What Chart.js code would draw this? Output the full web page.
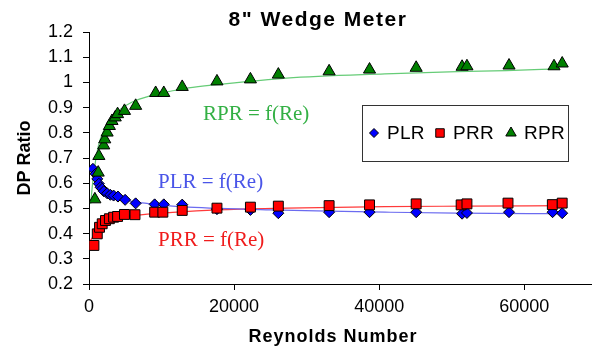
<!DOCTYPE html>
<html>
<head>
<meta charset="utf-8">
<title>8" Wedge Meter</title>
<script src="https://cdn.jsdelivr.net/npm/chart.js@4.4.1/dist/chart.umd.min.js"></script>
<style>
  html, body { margin: 0; padding: 0; background: #fff; }
  #wrap { width: 599px; height: 352px; position: relative; }
</style>
</head>
<body>
<div id="wrap"><canvas id="wedgeChart"></canvas></div>
<script>
// measured pressure ratios vs Reynolds number
const plrRe = [540, 910, 1140, 1360, 1590, 1820, 2040, 2500, 2940, 3390, 3990, 4980, 6430, 9050, 10310, 12850, 17640, 22250, 26100, 33100, 38670, 45100, 51430, 52100, 57900, 63900, 65230];
const plrRatio = [0.657, 0.637, 0.617, 0.598, 0.584, 0.578, 0.568, 0.560, 0.554, 0.551, 0.547, 0.534, 0.520, 0.516, 0.516, 0.515, 0.497, 0.494, 0.481, 0.485, 0.485, 0.485, 0.479, 0.482, 0.485, 0.485, 0.481];

const prrRe = [680, 1140, 1450, 1820, 2270, 2810, 3390, 3940, 4890, 6340, 9050, 10180, 12850, 17640, 22250, 26100, 33100, 38670, 45100, 51300, 52100, 57760, 63870, 65230];
const prrRatio = [0.353, 0.399, 0.425, 0.439, 0.452, 0.459, 0.465, 0.468, 0.476, 0.475, 0.485, 0.485, 0.492, 0.501, 0.505, 0.509, 0.511, 0.514, 0.518, 0.514, 0.518, 0.521, 0.515, 0.521];

const rprRe = [810, 1270, 1360, 2030, 2170, 2500, 2810, 3170, 3620, 3940, 4890, 6430, 9190, 10310, 12850, 17640, 22250, 26100, 33100, 38670, 45100, 51430, 52100, 57900, 64100, 65230];
const rprRatio = [0.536, 0.642, 0.708, 0.750, 0.774, 0.801, 0.827, 0.847, 0.861, 0.874, 0.887, 0.907, 0.958, 0.958, 0.982, 1.004, 1.012, 1.031, 1.044, 1.051, 1.058, 1.062, 1.064, 1.067, 1.064, 1.075];

// fitted curves f(Re)
const plrFitRe = [230, 1360, 3175, 5430, 8600, 11530, 13660, 24970, 33100, 40800, 50750, 65680];
const plrFitRatio = [0.663, 0.598, 0.558, 0.531, 0.518, 0.509, 0.505, 0.494, 0.489, 0.485, 0.481, 0.479];

const prrFitRe = [230, 1360, 3175, 6340, 11530, 17640, 27230, 40800, 52000, 65680];
const prrFitRatio = [0.373, 0.425, 0.457, 0.472, 0.484, 0.494, 0.501, 0.507, 0.509, 0.511];

const rprFitRe = [230, 540, 910, 1360, 2040, 2940, 4070, 5890, 8600, 11760, 13700, 17640, 27230, 40800, 50750, 57530, 64780];
const rprFitRatio = [0.518, 0.611, 0.690, 0.756, 0.809, 0.856, 0.888, 0.921, 0.948, 0.968, 0.978, 0.991, 1.017, 1.034, 1.043, 1.047, 1.054];

const xTicks = [0, 20000, 40000, 60000];

const toPoints = (xs, ys) => xs.map((x, i) => ({ x: x, y: ys[i] }));

const sans = 'Arial, "Liberation Sans", sans-serif';
const serif = '"Times New Roman", "Liberation Serif", serif';

function markerSet(label, re, ratio, color, style, radius, order) {
    return {
        label: label,
        data: toPoints(re, ratio),
        showLine: false,
        pointStyle: style,
        pointRadius: radius,
        pointBackgroundColor: color,
        pointBorderColor: '#000',
        pointBorderWidth: 1,
        order: order
    };
}

function fitSet(re, ratio, color) {
    return {
        data: toPoints(re, ratio),
        showLine: true,
        borderColor: color,
        borderWidth: 1.2,
        pointRadius: 0,
        cubicInterpolationMode: 'monotone',
        fill: false,
        order: 10
    };
}

// title, axis caption, curve labels and the boxed legend
const chartText = {
    id: 'chartText',
    afterDraw(chart) {
        const ctx = chart.ctx;
        ctx.save();
        ctx.textBaseline = 'middle';
        ctx.textAlign = 'center';
        ctx.fillStyle = '#000';
        ctx.font = 'bold 21px ' + sans;
        ctx.letterSpacing = '1.5px';
        ctx.fillText('8" Wedge Meter', 318, 20);
        ctx.font = 'bold 18px ' + sans;
        ctx.letterSpacing = '1px';
        ctx.fillText('Reynolds Number', 333, 337);
        ctx.letterSpacing = '0px';

        ctx.textAlign = 'left';
        ctx.font = '21px ' + serif;
        ctx.fillStyle = '#33b044';
        ctx.fillText('RPR = f(Re)', 203, 114);
        ctx.fillStyle = '#4a55e8';
        ctx.fillText('PLR = f(Re)', 158, 182);
        ctx.fillStyle = '#f01c1c';
        ctx.fillText('PRR = f(Re)', 158, 240);

        // legend box
        ctx.fillStyle = '#fff';
        ctx.fillRect(362, 105, 206, 56);
        ctx.strokeStyle = '#333';
        ctx.lineWidth = 1;
        ctx.strokeRect(362.5, 105.5, 206, 56);

        const items = [
            { name: 'PLR', set: 0, x: 374 },
            { name: 'PRR', set: 1, x: 440 },
            { name: 'RPR', set: 2, x: 511 }
        ];
        ctx.font = '19px ' + sans;
        ctx.letterSpacing = '0.3px';
        items.forEach(it => {
            const ds = chart.data.datasets[it.set];
            ctx.fillStyle = ds.pointBackgroundColor;
            ctx.strokeStyle = '#000';
            ctx.lineWidth = 1;
            Chart.helpers.drawPoint(ctx, {
                pointStyle: ds.pointStyle,
                radius: ds.pointRadius - 1,
                rotation: 0,
                borderWidth: 1
            }, it.x, 133);
            ctx.fillStyle = '#000';
            ctx.fillText(it.name, it.x + 13, 134);
        });
        ctx.restore();
    }
};

const ctx = document.getElementById('wedgeChart').getContext('2d');
new Chart(ctx, {
    type: 'scatter',
    data: {
        datasets: [
            markerSet('PLR', plrRe, plrRatio, '#0000ff', 'rectRot', 5.5, 3),
            markerSet('PRR', prrRe, prrRatio, '#ff0000', 'rect', 7, 2),
            markerSet('RPR', rprRe, rprRatio, '#008000', 'triangle', 7, 1),
            fitSet(plrFitRe, plrFitRatio, '#6b6bf0'),
            fitSet(prrFitRe, prrFitRatio, '#ff3a3a'),
            fitSet(rprFitRe, rprFitRatio, '#66cc77')
        ]
    },
    options: {
        responsive: true,
        maintainAspectRatio: false,
        animation: false,
        devicePixelRatio: 1,
        layout: { padding: { top: 32, right: 0, bottom: 0, left: 0 } },
        plugins: {
            legend: { display: false },
            tooltip: { enabled: false },
            title: { display: false }
        },
        scales: {
            x: {
                type: 'linear',
                min: 0,
                max: 69200,
                afterBuildTicks: scale => {
                    scale.ticks = xTicks.map(v => ({ value: v }));
                },
                afterFit: scale => { scale.height = 68; },
                ticks: {
                    color: '#000',
                    font: { family: sans, size: 18 },
                    padding: 6,
                    maxRotation: 0,
                    callback: v => String(v)
                },
                grid: { drawOnChartArea: false, drawTicks: true, tickLength: 6, color: '#000' },
                border: { display: true, color: '#000', width: 1 }
            },
            y: {
                min: 0.2,
                max: 1.2,
                afterFit: scale => { scale.width = 89; },
                ticks: {
                    stepSize: 0.1,
                    color: '#000',
                    font: { family: sans, size: 18 },
                    padding: 10,
                    callback: v => String(Math.round(v * 10) / 10)
                },
                title: {
                    display: true,
                    text: 'DP Ratio',
                    color: '#000',
                    font: { family: sans, size: 18, weight: 'bold' },
                    padding: { top: 14, bottom: 0 }
                },
                grid: { drawOnChartArea: false, drawTicks: true, tickLength: 6, color: '#000' },
                border: { display: true, color: '#000', width: 1 }
            }
        }
    },
    plugins: [chartText]
});
</script>
</body>
</html>
